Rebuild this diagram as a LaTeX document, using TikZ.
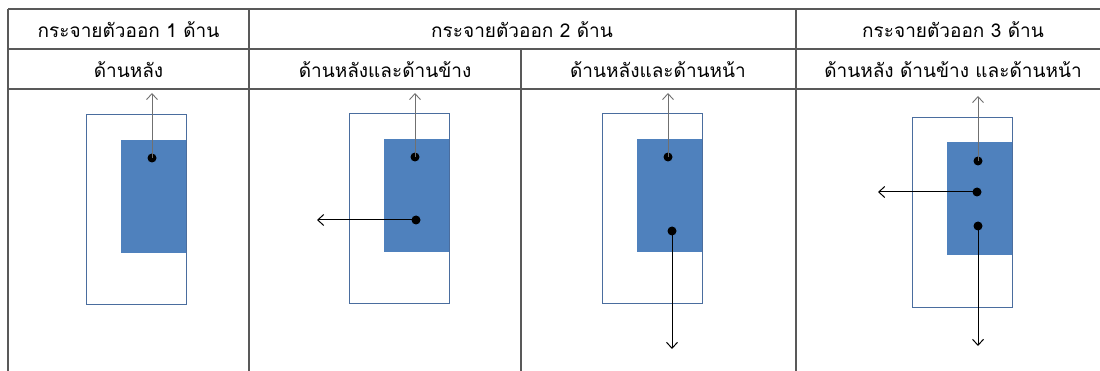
\documentclass[tikz,border=0pt]{standalone}
\usepackage{fontspec}
\newfontfamily\thaifont[Script=Thai]{Loma}
\usetikzlibrary{arrows.meta}
\definecolor{gridc}{HTML}{595959}
\definecolor{bluefill}{HTML}{4F81BD}
\definecolor{bluedraw}{HTML}{4A6D9E}
\definecolor{uparrow}{HTML}{707070}
\tikzset{
  gridline/.style={draw=gridc, line width=1.3pt},
  hdr/.style={font=\thaifont\fontsize{19}{22}\selectfont, inner sep=0pt, anchor=center},
  outerbox/.style={draw=bluedraw, line width=1pt, fill=white},
  corebox/.style={fill=bluefill, draw=none},
  pt/.style={circle, fill=black, inner sep=0pt, minimum size=9pt},
  uparr/.style={draw=uparrow, line width=0.9pt, -{Straight Barb[length=6pt,width=11pt]}},
  outarr/.style={draw=black, line width=1pt, -{Straight Barb[length=6pt,width=11pt]}},
}
\begin{document}
\begin{tikzpicture}[x=1pt,y=-1pt]
\useasboundingbox (0,0) rectangle (1100,371);
% table grid
\draw[gridline] (8,9) -- (1100,9);
\draw[gridline] (8,49) -- (1100,49);
\draw[gridline] (8,89) -- (1100,89);
\draw[gridline] (8,9) -- (8,371);
\draw[gridline] (249,9) -- (249,371);
\draw[gridline] (521,49) -- (521,371);
\draw[gridline] (796,9) -- (796,371);
% headers
\node[hdr] (h1) at (128.5,30) {กระจายตัวออก 1 ด้าน};
\node[hdr] (h2) at (522,30) {กระจายตัวออก 2 ด้าน};
\node[hdr] (h3) at (953,30) {กระจายตัวออก 3 ด้าน};
\node[hdr] (s1) at (128.5,70) {ด้านหลัง};
\node[hdr] (s2) at (385,70) {ด้านหลังและด้านข้าง};
\node[hdr] (s3) at (658,70) {ด้านหลังและด้านหน้า};
\node[hdr] (s4) at (953,70) {ด้านหลัง ด้านข้าง และด้านหน้า};
% panel 1
\draw[outerbox] (86,115) rectangle (186,304);
\fill[corebox] (121,140) rectangle (186,253);
\node[pt] (p1a) at (152,158) {};
\coordinate (t1u) at (152,93);
\draw[uparr] (p1a.center) -- (t1u);
% panel 2
\draw[outerbox] (349,114) rectangle (449,303);
\fill[corebox] (384,139) rectangle (449,252);
\node[pt] (p2a) at (415,157) {};
\node[pt] (p2b) at (416,220) {};
\coordinate (t2u) at (415,93);
\coordinate (t2l) at (317,220);
\draw[uparr] (p2a.center) -- (t2u);
\draw[outarr] (p2b.center) -- (t2l);
% panel 3
\draw[outerbox] (602,114) rectangle (702,303);
\fill[corebox] (637,139) rectangle (702,252);
\node[pt] (p3a) at (668,157) {};
\node[pt] (p3b) at (672,231) {};
\coordinate (t3u) at (668,93);
\coordinate (t3d) at (672,349);
\draw[uparr] (p3a.center) -- (t3u);
\draw[outarr] (p3b.center) -- (t3d);
% panel 4
\draw[outerbox] (912,118) rectangle (1012,307);
\fill[corebox] (947,142) rectangle (1012,255);
\node[pt] (p4a) at (978,161) {};
\node[pt] (p4b) at (977,192) {};
\node[pt] (p4c) at (978,226) {};
\coordinate (t4u) at (978,96);
\coordinate (t4l) at (878,192);
\coordinate (t4d) at (978,346);
\draw[uparr] (p4a.center) -- (t4u);
\draw[outarr] (p4b.center) -- (t4l);
\draw[outarr] (p4c.center) -- (t4d);
\end{tikzpicture}
\end{document}
